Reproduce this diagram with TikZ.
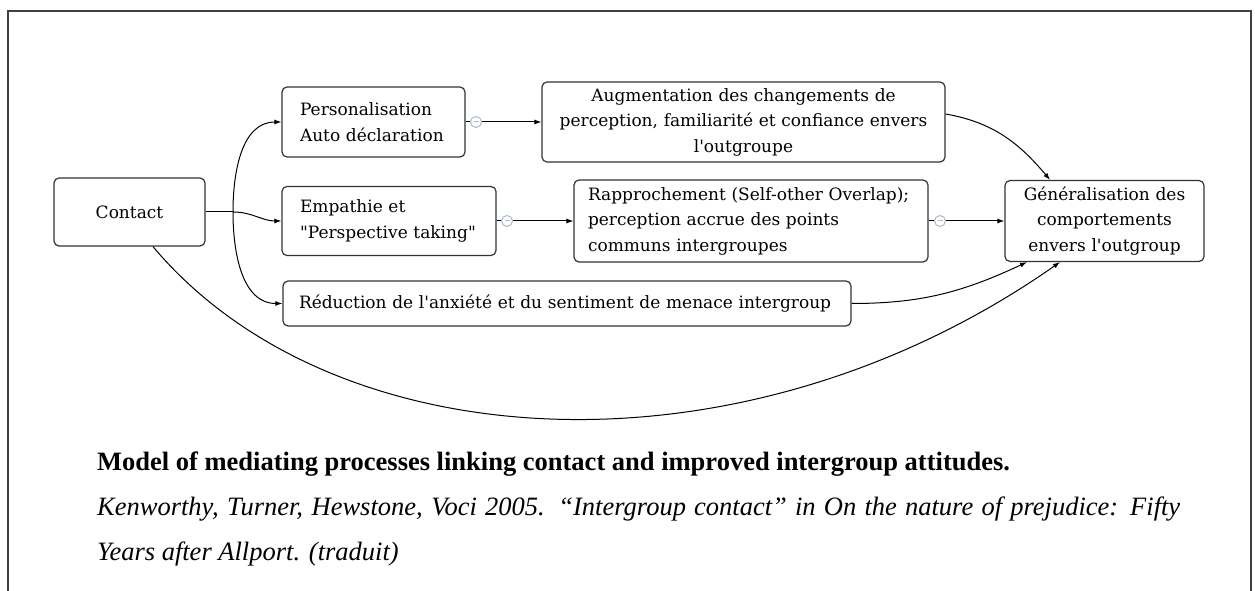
\documentclass[tikz,border=0pt]{standalone}
\usepackage{fontspec}
\setmainfont{Liberation Serif}
\newfontfamily\boitefont{DejaVu Serif}[Ligatures=TeXOff]
\usetikzlibrary{arrows.meta}
\definecolor{rondgris}{HTML}{A9B8CE}

\begin{document}
\begin{tikzpicture}[x=1pt,y=1pt,
  boite/.style={draw=black!80,line width=1.2pt,rounded corners=5pt,inner xsep=18pt,inner ysep=0pt,
    font=\boitefont\fontsize{17}{25.5}\selectfont},
  fleche/.style={-{Latex[length=7pt,width=5pt]},line width=1pt},
  trait/.style={line width=1pt},
  rond/.style={circle,draw=rondgris,fill=white,line width=1pt,minimum size=11pt,inner sep=0pt,
    path picture={\draw[rondgris,line width=1pt] ([xshift=-2.5pt]path picture bounding box.center) -- ([xshift=2.5pt]path picture bounding box.center);}},
  legende/.style={anchor=base west,inner sep=0pt,font=\fontsize{26.5}{30}\selectfont}]
\useasboundingbox (0,0) rectangle (1255,591);
\draw[line width=1.5pt,black!75] (8,0) -- (8,580) -- (1251,580) -- (1251,0);

\node[boite,text width=115pt,align=center,minimum height=68pt] (contact) at (129.5,379) {Contact};
\node[boite,text width=147pt,align=left,minimum height=70pt] (perso) at (373.5,469) {Personalisation\\Auto déclaration};
\node[boite,text width=178pt,align=left,minimum height=69pt] (empathie) at (389,370) {Empathie et\\"Perspective taking"};
\node[boite,text width=536pt,align=left,minimum height=45pt,inner xsep=16pt] (reduc) at (567,287.5) {Réduction de l'anxiété et du sentiment de menace intergroup};
\node[boite,text width=395pt,align=center,minimum height=80pt,inner xsep=4pt] (augm) at (743.5,469) {Augmentation des changements de\\perception, familiarité et confiance envers\\l'outgroupe};
\node[boite,text width=326pt,align=left,minimum height=82pt,inner xsep=14pt] (rappr) at (751,370) {Rapprochement (Self-other Overlap);\\perception accrue des points\\communs intergroupes};
\node[boite,text width=183pt,align=center,minimum height=81pt,inner xsep=8pt] (gener) at (1104.5,370) {Généralisation des\\comportements\\envers l'outgroup};

\coordinate (jonc) at (233,379);
\draw[trait] (contact.east) -- (jonc);
\draw[fleche] (jonc) to[out=90,in=180] (perso.west);
\draw[fleche] (jonc) to[out=0,in=180] (empathie.west);
\draw[fleche] (jonc) to[out=-90,in=180] (reduc.west);

\node[rond] (m1) at (476,469) {};
\node[rond] (m2) at (507,370) {};
\node[rond] (m3) at (940,370) {};
\draw[trait] (perso.east) -- (m1);
\draw[fleche] (m1) -- (augm.west);
\draw[trait] (empathie.east) -- (m2);
\draw[fleche] (m2) -- (rappr.west);
\draw[trait] (rappr.east) -- (m3);
\draw[fleche] (m3) -- (gener.west);

\draw[fleche] ([yshift=8pt]augm.east) to[out=-10,in=130] ([xshift=-54.5pt]gener.north);
\draw[fleche] (reduc.east) to[out=0,in=-155] ([xshift=-77.5pt]gener.south);
\draw[fleche] ([xshift=23.5pt]contact.south) .. controls +(-50:280) and +(215:390) .. ([xshift=-44.5pt]gener.south);

\node[legende,font=\fontsize{26.5}{30}\selectfont\bfseries] (titre) at (97,120) {Model of mediating processes linking contact and improved intergroup attitudes.};
\node[legende,font=\fontsize{26.5}{30}\selectfont\itshape] (ref1) at (97,75) {\makebox[1083pt][s]{Kenworthy, Turner, Hewstone, Voci 2005. “Intergroup contact” in On the nature of prejudice: Fifty}};
\node[legende,font=\fontsize{26.5}{30}\selectfont\itshape] (ref2) at (97,30) {Years after Allport. (traduit)};
\end{tikzpicture}
\end{document}
